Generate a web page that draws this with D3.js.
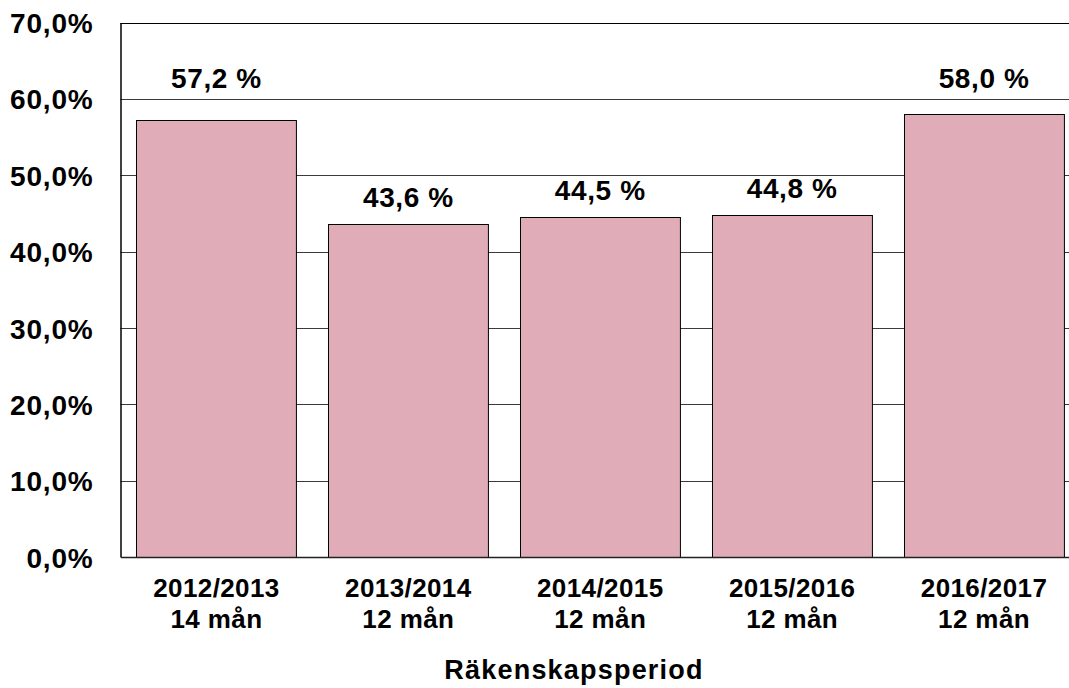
<!DOCTYPE html>
<html>
<head>
<meta charset="utf-8">
<script src="https://cdn.jsdelivr.net/npm/d3@7"></script>
<style>
  body { margin: 0; background: #fff; }
  text { font-family: "Liberation Sans", Arial, Helvetica, sans-serif; font-weight: bold; fill: #000; }
</style>
</head>
<body>
<script>
let periods = ["2012/2013", "2013/2014", "2014/2015", "2015/2016", "2016/2017"]
let lengths = ["14 mån", "12 mån", "12 mån", "12 mån", "12 mån"]
let values = [57.2, 43.6, 44.5, 44.8, 58.0]
let yTicks = [0, 10, 20, 30, 40, 50, 60, 70]

let width = 1069, height = 688
let plotLeft = 120.5, plotTop = 22.5, plotBottom = 557, plotRight = 1080

let svg = d3.select("body")
    .append("svg")
    .attr("width", width)
    .attr("height", height)

let x = d3.scaleBand()
    .domain(periods)
    .range([plotLeft, plotRight])
    .paddingInner(1 / 6)
    .paddingOuter(1 / 12)

let y = d3.scaleLinear()
    .domain([0, 70])
    .range([plotBottom, plotTop])

let fmt = d => d3.format(".1f")(d).replace(".", ",")

// gridlines
svg.append("g")
    .selectAll("line")
    .data(yTicks.slice(1))
    .enter()
    .append("line")
    .attr("x1", plotLeft)
    .attr("x2", plotRight)
    .attr("y1", d => Math.round(y(d)) + 0.5)
    .attr("y2", d => Math.round(y(d)) + 0.5)
    .attr("stroke", d => d == 70 ? "#000" : "#3a3a3a")
    .attr("stroke-width", 1)

// bars
svg.append("g")
    .selectAll("rect")
    .data(values)
    .enter()
    .append("rect")
    .attr("x", (d, i) => Math.round(x(periods[i])) + 0.5)
    .attr("y", d => Math.round(y(d)) + 0.5)
    .attr("width", x.bandwidth())
    .attr("height", d => Math.round(y(0)) - Math.round(y(d)))
    .attr("fill", "#e0acb8")
    .attr("stroke", "#000")
    .attr("stroke-width", 1)

// value labels, pushed above a gridline if they would sit on it
function labelY(d) {
    let ly = y(d) - 17
    yTicks.forEach(t => {
        if (y(t) > ly - 22 && y(t) < ly + 2) ly = y(t) - 11
    })
    return ly
}

svg.append("g")
    .selectAll("text")
    .data(values)
    .enter()
    .append("text")
    .attr("x", (d, i) => x(periods[i]) + x.bandwidth() / 2)
    .attr("y", labelY)
    .attr("text-anchor", "middle")
    .style("font-size", "28px")
    .style("letter-spacing", "0.6px")
    .text(d => fmt(d) + " %")

// y axis
let yAxis = svg.append("g")
    .attr("transform", `translate(${plotLeft},0)`)
    .call(d3.axisLeft(y).tickValues(yTicks).tickSize(0).tickPadding(27).tickFormat(d => fmt(d) + "%"))
yAxis.select(".domain").attr("stroke", "#000").attr("stroke-width", 1.5)
yAxis.selectAll("text")
    .style("font-size", "28px")
    .style("font-family", "'Liberation Sans', Arial, sans-serif")
    .style("font-weight", "bold")
    .style("letter-spacing", "0.8px")
    .attr("dy", "0.36em")

// x axis
let xAxis = svg.append("g")
    .attr("transform", `translate(0,${plotBottom})`)
    .call(d3.axisBottom(x).tickSize(0).tickFormat(""))
xAxis.select(".domain").attr("stroke", "#222").attr("stroke-width", 1.5)

let xl = svg.append("g")
    .selectAll("text")
    .data(periods)
    .enter()
    .append("text")
    .attr("x", d => x(d) + x.bandwidth() / 2)
    .attr("y", 597)
    .attr("text-anchor", "middle")
    .style("font-size", "26px")
    .style("letter-spacing", "0.4px")
xl.append("tspan")
    .attr("x", d => x(d) + x.bandwidth() / 2)
    .text(d => d)
xl.append("tspan")
    .attr("x", d => x(d) + x.bandwidth() / 2)
    .attr("dy", 31)
    .text((d, i) => lengths[i])

svg.append("text")
    .attr("x", 574)
    .attr("y", 679)
    .attr("text-anchor", "middle")
    .style("font-size", "27px")
    .style("letter-spacing", "1.2px")
    .text("Räkenskapsperiod")
</script>
</body>
</html>
